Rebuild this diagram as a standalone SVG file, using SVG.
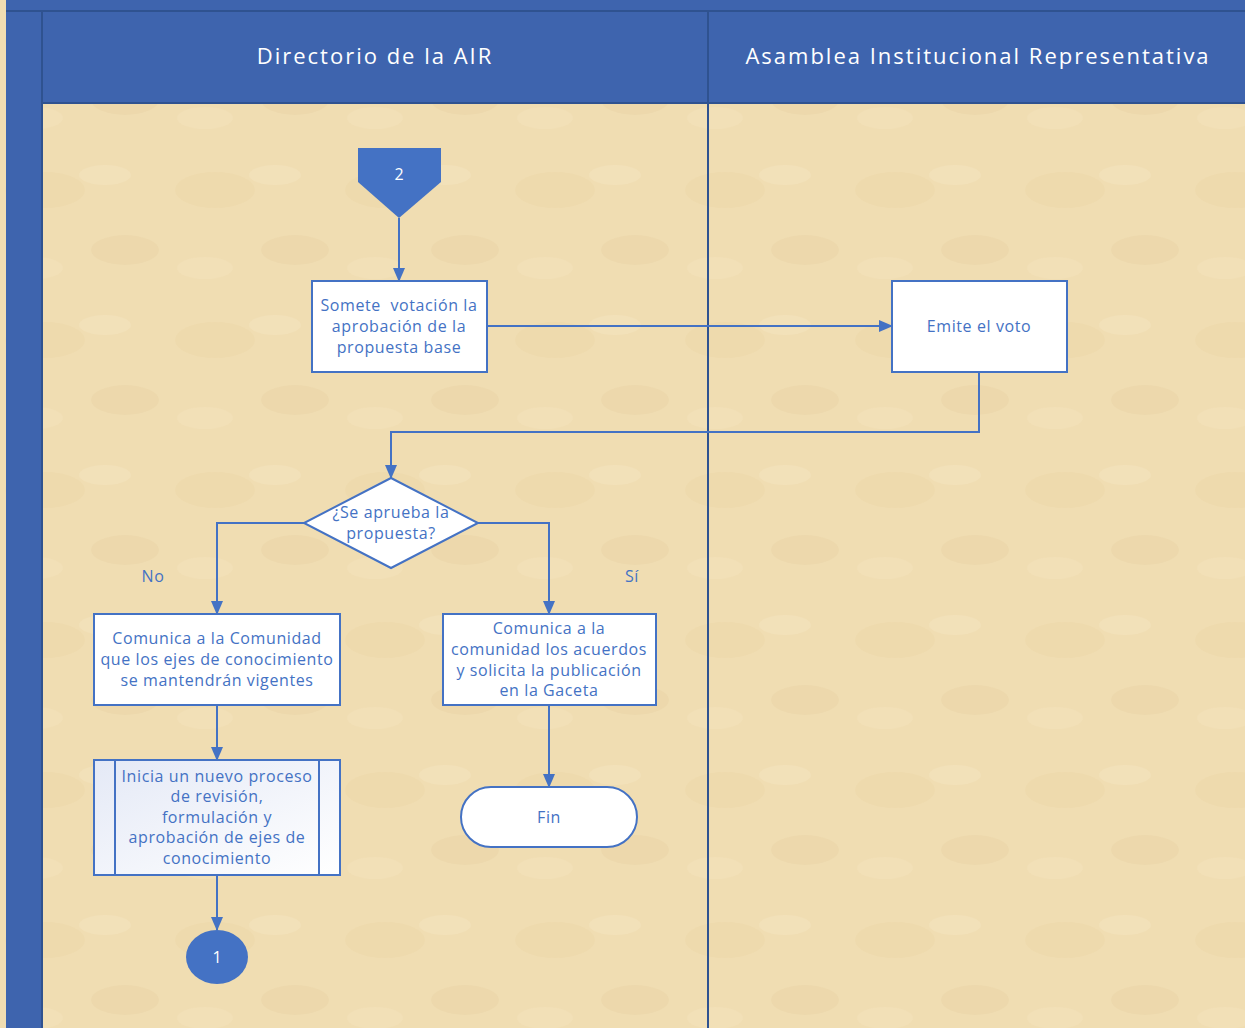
<svg xmlns="http://www.w3.org/2000/svg" width="1245" height="1028" viewBox="0 0 1245 1028">
<defs>
<style>
.lane{fill:#3e64ae;}
.edge{stroke:#2f5290;stroke-width:2;fill:none;}
.hdr{font-family:"Open Sans","Noto Sans",sans-serif;font-size:22px;fill:#ffffff;text-anchor:middle;letter-spacing:2px;}
.box{fill:#ffffff;stroke:#4472c4;stroke-width:2;}
.t{font-family:"Open Sans","Noto Sans",sans-serif;font-size:16px;fill:#4472c4;text-anchor:middle;letter-spacing:0.6px;white-space:pre;}
.tw{font-family:"Open Sans","Noto Sans",sans-serif;font-size:16px;fill:#ffffff;text-anchor:middle;}
.c{stroke:#4472c4;stroke-width:2;fill:none;marker-end:url(#ah);}
</style>
<marker id="ah" markerWidth="14" markerHeight="12" refX="13" refY="6" orient="auto" markerUnits="userSpaceOnUse">
<path d="M0,0 L14,6 L0,12 Z" fill="#4472c4"/>
</marker>
<linearGradient id="pp" x1="0" y1="0" x2="1" y2="1">
<stop offset="0" stop-color="#e4e9f6"/>
<stop offset="1" stop-color="#ffffff"/>
</linearGradient>
<pattern id="tex" width="170" height="150" patternUnits="userSpaceOnUse">
<rect width="170" height="150" fill="#f0ddb2"/>
<ellipse cx="45" cy="40" rx="40" ry="18" fill="#e9d3a4" opacity="0.35"/>
<ellipse cx="125" cy="100" rx="34" ry="15" fill="#e7d09f" opacity="0.3"/>
<ellipse cx="105" cy="25" rx="26" ry="10" fill="#f5e5c3" opacity="0.4"/>
<ellipse cx="35" cy="118" rx="28" ry="11" fill="#f4e3bf" opacity="0.4"/>
</pattern>
</defs>
<rect x="0" y="0" width="1245" height="1028" fill="url(#tex)"/>
<g id="lanes">
<rect class="lane" x="6" y="0" width="1239" height="11"/>
<rect class="lane" x="6" y="0" width="36" height="1028"/>
<rect class="lane" x="42" y="11" width="1203" height="92"/>
<line class="edge" x1="6" y1="11" x2="1245" y2="11"/>
<line class="edge" x1="42" y1="11" x2="42" y2="1028"/>
<line class="edge" x1="42" y1="103" x2="1245" y2="103"/>
<line class="edge" x1="708" y1="11" x2="708" y2="1028"/>
<text class="hdr" x="375" y="64">Directorio de la AIR</text>
<text class="hdr" x="978" y="64">Asamblea Institucional Representativa</text>
</g>
<g id="connectors">
<path class="c" d="M399,218 L399,281"/>
<path class="c" d="M487,326 L892,326"/>
<path class="c" d="M979,372 L979,432 L391,432 L391,478"/>
<path class="c" d="M304,523 L217,523 L217,614"/>
<path class="c" d="M478,523 L549,523 L549,614"/>
<path class="c" d="M217,705 L217,760"/>
<path class="c" d="M549,705 L549,787"/>
<path class="c" d="M217,875 L217,930"/>
<text class="t" x="153" y="582">No</text>
<text class="t" x="632" y="582">Sí</text>
</g>
<g id="n2">
<polygon points="358,148 441,148 441,182 399,218 358,182" fill="#4472c4"/>
<text class="tw" x="399" y="180">2</text>
</g>
<g id="somete">
<rect class="box" x="312" y="281" width="175" height="91"/>
<text class="t" x="399" y="311" xml:space="preserve">Somete  votación la</text>
<text class="t" x="399" y="332">aprobación de la</text>
<text class="t" x="399" y="353">propuesta base</text>
</g>
<g id="emite">
<rect class="box" x="892" y="281" width="175" height="91"/>
<text class="t" x="979" y="332">Emite el voto</text>
</g>
<g id="decision">
<polygon class="box" points="391,478 478,523 391,568 304,523"/>
<text class="t" x="391" y="518">¿Se aprueba la</text>
<text class="t" x="391" y="539">propuesta?</text>
</g>
<g id="comunicaNo">
<rect class="box" x="94" y="614" width="246" height="91"/>
<text class="t" x="217" y="644">Comunica a la Comunidad</text>
<text class="t" x="217" y="665">que los ejes de conocimiento</text>
<text class="t" x="217" y="686">se mantendrán vigentes</text>
</g>
<g id="comunicaSi">
<rect class="box" x="443" y="614" width="213" height="91"/>
<text class="t" x="549" y="634">Comunica a la</text>
<text class="t" x="549" y="655">comunidad los acuerdos</text>
<text class="t" x="549" y="676">y solicita la publicación</text>
<text class="t" x="549" y="696">en la Gaceta</text>
</g>
<g id="inicia">
<rect x="94" y="760" width="246" height="115" fill="url(#pp)" stroke="#4472c4" stroke-width="2"/>
<line x1="115" y1="760" x2="115" y2="875" stroke="#4472c4" stroke-width="2"/>
<line x1="319" y1="760" x2="319" y2="875" stroke="#4472c4" stroke-width="2"/>
<text class="t" x="217" y="782">Inicia un nuevo proceso</text>
<text class="t" x="217" y="802">de revisión,</text>
<text class="t" x="217" y="823">formulación y</text>
<text class="t" x="217" y="843">aprobación de ejes de</text>
<text class="t" x="217" y="864">conocimiento</text>
</g>
<g id="fin">
<rect class="box" x="461" y="787" width="176" height="60" rx="30" ry="30"/>
<text class="t" x="549" y="823">Fin</text>
</g>
<g id="n1">
<ellipse cx="217" cy="957" rx="31" ry="27" fill="#4472c4"/>
<text class="tw" x="217" y="963">1</text>
</g>
</svg>
